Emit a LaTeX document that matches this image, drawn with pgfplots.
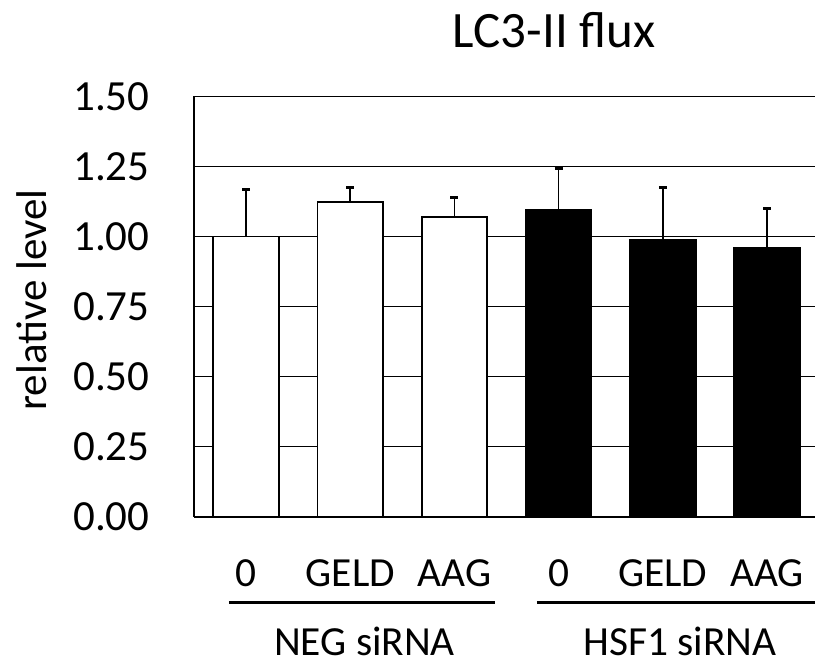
\documentclass[border=0pt]{standalone}
\usepackage{fontspec}
\setmainfont{Carlito}
\usepackage{pgfplots}
\pgfplotsset{compat=1.18}
\usetikzlibrary{calc}
\begin{document}
\begin{tikzpicture}
\useasboundingbox (0,0) rectangle (407.5pt,332.5pt);
\begin{axis}[
  at={(97pt,74.25pt)}, anchor=south west,
  scale only axis, width=310.5pt, height=210pt,
  xmin=-0.5, xmax=5.46, ymin=0, ymax=1.5,
  axis x line*=bottom, axis y line*=left,
  axis line style={line width=1pt, black},
  clip=false,
  ytick={0,0.25,0.5,0.75,1,1.25,1.5},
  yticklabel style={/pgf/number format/.cd, fixed, fixed zerofill, precision=2, /tikz/.cd,
    anchor=east, inner sep=0pt, xshift=-22pt, font=\fontsize{21.5}{24}\selectfont},
  /pgf/number format/assume math mode=true,
  xtick={0,1,2,3,4,5},
  xticklabels={0,GELD,AAG,0,GELD,AAG},
  xticklabel style={anchor=base, inner sep=0pt, yshift=-35pt, font=\fontsize{20.7}{24}\selectfont},
  major tick length=0pt,
  ymajorgrids, grid style={line width=0.7pt, black},
]
\addplot[ybar, bar width=0.63, bar shift=0pt, fill=white, draw=black, line width=0.9pt,
  error bars/.cd, y dir=plus, y explicit,
  error bar style={line width=0.8pt, black},
  error mark options={rotate=90, line width=1.4pt, mark size=2pt, black}]
  coordinates {(0,1.000) +- (0,0.168) (1,1.122) +- (0,0.052) (2,1.071) +- (0,0.068)};
\addplot[ybar, bar width=0.63, bar shift=0pt, fill=black, draw=black, line width=0.9pt,
  error bars/.cd, y dir=plus, y explicit,
  error bar style={line width=0.8pt, black},
  error mark options={rotate=90, line width=1.4pt, mark size=2pt, black}]
  coordinates {(3,1.096) +- (0,0.148) (4,0.988) +- (0,0.186) (5,0.961) +- (0,0.140)};
\draw[line width=1.5pt] (axis cs:-0.166,-0.307) -- (axis cs:2.385,-0.307);
\draw[line width=1.5pt] (axis cs:2.79,-0.307) -- (axis cs:5.6,-0.307);
\node[anchor=base, inner sep=0pt, font=\fontsize{20.7}{24}\selectfont] at (axis cs:1.137,-0.495) {NEG siRNA};
\node[anchor=base, inner sep=0pt, font=\fontsize{20.7}{24}\selectfont] at (axis cs:4.165,-0.495) {HSF1 siRNA};
\node[anchor=base, inner sep=0pt, font=\fontsize{25.5}{28}\selectfont] at ($(rel axis cs:0.496,1)+(0,24.25pt)$) {LC3-II flux};
\node[rotate=90, anchor=center, inner sep=0pt, font=\fontsize{21.5}{24}\selectfont] at ($(rel axis cs:0,0.5)+(-81.25pt,3.25pt)$) {relative level};
\end{axis}
\end{tikzpicture}
\end{document}
